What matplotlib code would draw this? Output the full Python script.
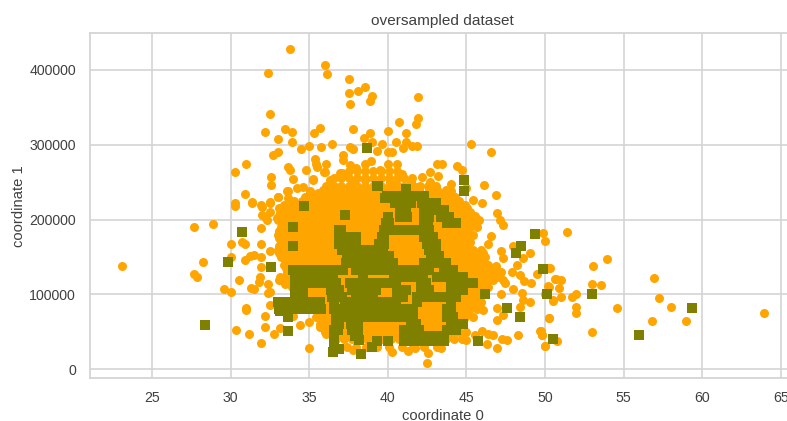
#!/usr/bin/env python3
"""Scatter of the oversampled dataset: original points over the synthetic ones."""

import matplotlib

matplotlib.use("Agg")
import matplotlib.pyplot as plt
import numpy as np

# isolated majority points
top_x = [33.78, 32.36, 35.98, 36.15, 32.5, 32.19, 33.48, 33.88, 32.99, 33.88, 35.66, 35.32, 34.46, 35.0, 35.75, 36.47,
         32.67, 32.99, 31.0, 30.26, 33.65, 33.8, 33.97, 32.59, 32.59, 34.77, 35.35, 35.41, 36.07, 35.92, 35.24, 30.89,
         31.38, 30.26, 32.99, 32.5, 31.93, 33.65, 34.2, 34.62, 35.05, 37.5, 37.5, 38.08, 38.57, 38.97, 38.88, 37.6,
         41.94, 41.94, 41.79, 40.73, 37.76, 40.0, 41.13, 38.88, 38.48, 38.97, 39.6, 40.49, 41.13, 40.98, 41.53, 41.87,
         37.6, 37.76, 39.29, 40.0, 40.24, 45.27, 46.54, 37.17, 37.17, 43.42, 43.12, 44.41, 44.69, 42.68, 43.2, 42.19,
         42.68, 44.01, 44.01, 46.13, 46.86, 43.2, 45.43, 45.98, 44.99, 43.95, 44.27, 35.21, 36.95, 36.0, 35.47, 36.32]
top_y = [428400, 396000, 406000, 394000, 341500, 317500, 321000, 316500, 307700, 304000, 323000, 316000, 294000, 299000,
         297500, 300500, 287000, 291000, 275000, 263500, 270000, 267000, 254500, 256500, 246000, 267000, 280500, 275000,
         275000, 263500, 254500, 234000, 224000, 222500, 230000, 224000, 219500, 238500, 242000, 244000, 238500, 387500,
         369000, 372000, 377000, 365500, 358500, 355000, 364000, 336000, 328000, 331000, 321000, 319000, 316000, 316000,
         309500, 304000, 300500, 304000, 304000, 295500, 298000, 299000, 297500, 294000, 292000, 290500, 290500, 300500,
         290500, 286500, 279500, 275000, 274000, 272000, 266500, 263500, 258000, 256500, 250000, 247500, 238500, 246000,
         233000, 236500, 226000, 222000, 242000, 224000, 222500, 253000, 262000, 264000, 270800, 253000]

mid_x = [37.06, 38.0, 38.54, 38.9, 39.5, 40.0, 40.55, 40.93, 41.45, 41.87, 37.83, 38.54, 39.07, 40.13, 40.55, 37.6,
         33.6, 33.03, 33.67, 33.79, 33.14, 32.19, 32.93, 31.97, 32.5]
mid_y = [262000, 268500, 275000, 278000, 266000, 275000, 275000, 261000, 250500, 244000, 250500, 253000, 242000, 250500,
         246000, 273000, 238300, 229900, 228500, 217300, 208500, 203900, 201800, 217300, 222600]

left_x = [23.07, 27.67, 28.9, 28.24, 27.67, 27.84, 29.6, 30.02, 30.02, 30.02, 30.51, 31.0, 30.34, 31.15, 31.95, 32.76,
          33.14, 32.19, 32.19, 32.5, 30.74, 30.91, 31.95, 30.91, 31.23, 31.49, 31.95, 32.5, 31.95, 31.87, 31.79, 31.32,
          31.49, 32.36, 32.5, 32.36, 33.06, 33.14, 33.44, 35.0, 34.43, 35.0, 33.99, 35.68, 36.06, 30.26, 31.38, 31.97,
          33.14, 31.95, 31.0]
left_y = [138000, 190000, 194000, 143000, 127500, 123500, 107000, 103500, 167000, 150000, 119000, 81500, 52500, 47500,
          35500, 47500, 55000, 56000, 71500, 86500, 170500, 167000, 168000, 146500, 152000, 153000, 150000, 158500, 136500,
          123500, 117000, 109000, 107500, 114000, 103500, 101500, 119000, 123500, 114000, 29000, 59500, 63000, 71500, 56000,
          47500, 218500, 222000, 206000, 206000, 189000, 79000]

right_x = [51.37, 49.88, 49.99, 53.96, 53.06, 50.26, 50.63, 50.99, 52.96, 53.55, 56.94, 50.26, 50.9, 51.98, 51.73, 50.99,
           50.48, 49.97, 57.26, 57.98, 54.6, 51.96, 51.96, 50.26, 56.78, 58.95, 63.94, 52.96, 50.73, 49.99, 49.74, 49.8,
           46.92, 47.13, 47.3, 46.54, 46.38, 45.75, 47.2, 47.34, 47.98, 49.03, 48.62, 48.2, 47.87, 48.4, 49.47, 50.3,
           50.7, 48.68, 49.1, 46.86, 47.34, 46.92, 47.46, 47.98, 48.55, 47.2, 49.03, 48.62, 48.4, 50.2, 50.52, 46.92,
           47.34, 46.92, 50.22, 49.68, 49.78, 48.25, 49.99, 46.92, 46.28, 47.56, 47.28, 46.7, 46.38, 45.96, 45.54, 44.99,
           44.99, 46.05, 42.51, 42.57, 41.3, 40.24, 37.8, 43.37, 41.7]
right_y = [183500, 181700, 171500, 147800, 137600, 135800, 121000, 119300, 114000, 112200, 122400, 110400, 109000, 100200,
           97000, 96600, 91700, 100200, 95300, 83700, 82000, 83700, 75200, 68100, 64900, 64900, 74800, 49400, 37400, 30700,
           51200, 45800, 209300, 199500, 192800, 178500, 167000, 152700, 158500, 148300, 164700, 155000, 148300, 139400,
           130400, 126000, 127300, 135800, 120700, 118000, 115000, 138400, 119300, 123700, 115000, 107300, 102400, 100200,
           90300, 92600, 83700, 111300, 92600, 81500, 72600, 65900, 68200, 51200, 45800, 46200, 30700, 28500, 33800, 39100,
           40500, 45800, 47200, 51200, 45800, 49400, 39100, 79200, 8800, 22100, 24400, 23500, 25700, 28900, 28000]

# solid middle of the majority class, one list per height
orange_265k = [37.55, 38.05, 38.55, 39.05, 39.55, 40.05, 40.55]
orange_255k = [36.55, 37.05, 37.55, 38.05, 38.55, 39.05, 39.55, 40.05, 40.55, 41.05, 41.55]
orange_245k = [36.05, 36.55, 37.05, 37.55, 38.05, 38.55, 39.05, 39.55, 40.05, 40.55, 41.05, 41.55, 42.05, 42.55, 43.05]
orange_240k = [35.9, 36.5, 37.0, 37.6, 38.1, 38.7, 39.2, 39.8, 40.3, 40.9, 41.5, 42.0, 42.6, 43.1, 43.7]
orange_235k = [35.05, 35.55, 36.05, 36.55, 37.05, 37.55, 38.05, 38.55, 39.05, 39.55, 40.05, 40.55, 41.05, 41.55, 42.05,
               42.55, 43.05, 43.55]
orange_230k = [34.7, 35.3, 35.8, 36.3, 36.8, 37.3, 37.8, 38.3, 38.8, 39.3, 39.8, 40.3, 40.8, 41.3, 41.8, 42.3, 42.8, 43.3,
               43.8, 44.3]
orange_225k = [34.05, 34.55, 35.05, 35.55, 36.05, 36.55, 37.05, 37.55, 38.05, 38.55, 39.05, 39.55, 40.05, 40.55, 41.05,
               41.55, 42.05, 42.55, 43.05, 43.55, 44.05, 44.55]
orange_220k = [33.4, 33.9, 34.4, 34.9, 35.4, 35.9, 36.4, 36.9, 37.4, 37.9, 38.4, 38.9, 39.4, 39.9, 40.4, 40.9, 41.4, 41.9,
               42.4, 42.9, 43.4, 43.9, 44.4, 44.9]
orange_215k = [33.05, 33.55, 34.05, 34.55, 35.05, 35.55, 36.05, 36.55, 37.05, 37.55, 38.05, 38.55, 39.05, 39.55, 40.05,
               40.55, 41.05, 41.55, 42.05, 42.55, 43.05, 43.55, 44.05, 44.55, 45.05]
orange_210k = [32.5, 33.2, 33.7, 34.2, 34.7, 35.2, 35.7, 36.2, 36.7, 37.2, 37.7, 38.2, 38.7, 39.2, 39.7, 40.2, 40.7, 41.2,
               41.7, 42.2, 42.7, 43.2, 43.7, 44.2, 44.7, 45.2]
orange_205k = [33.05, 33.55, 34.05, 34.55, 35.05, 35.55, 36.05, 36.55, 37.05, 37.55, 38.05, 38.55, 39.05, 39.55, 40.05,
               40.55, 41.05, 41.55, 42.05, 42.55, 43.05, 43.55, 44.05, 44.55, 45.05, 45.55]
orange_200k = [32.3, 33.0, 33.4, 33.9, 34.4, 34.9, 35.4, 35.9, 36.4, 36.9, 37.4, 37.9, 38.4, 38.9, 39.4, 39.9, 40.4, 40.9,
               41.4, 41.9, 42.4, 42.9, 43.4, 43.9, 44.4, 44.9, 45.4, 45.8]
orange_195k = [33.55, 34.05, 34.55, 35.05, 35.55, 36.05, 36.55, 37.05, 37.55, 38.05, 38.55, 39.05, 39.55, 40.05, 40.55,
               41.05, 41.55, 42.05, 42.55, 43.05, 43.55, 44.05, 44.55, 45.05, 45.55]
orange_190k = [33.2, 33.7, 34.2, 34.7, 35.2, 35.7, 36.2, 36.7, 37.2, 37.7, 38.2, 38.7, 39.2, 39.7, 40.2, 40.7, 41.2, 41.7,
               42.2, 42.7, 43.2, 43.7, 44.2, 44.7, 45.2, 45.7]
orange_185k = [33.05, 33.55, 34.05, 34.55, 35.05, 35.55, 36.05, 36.55, 37.05, 37.55, 38.05, 38.55, 39.05, 39.55, 40.05,
               40.55, 41.05, 41.55, 42.05, 42.55, 43.05, 43.55, 44.05, 44.55, 45.05]
orange_180k = [33.0, 33.4, 33.9, 34.4, 34.9, 35.4, 35.9, 36.4, 36.9, 37.4, 37.9, 38.4, 38.9, 39.4, 39.9, 40.4, 40.9, 41.4,
               41.9, 42.4, 42.9, 43.4, 43.9, 44.4, 44.9, 45.4]
orange_175k = [33.05, 33.55, 34.05, 34.55, 35.05, 35.55, 36.05, 36.55, 37.05, 37.55, 38.05, 38.55, 39.05, 39.55, 40.05,
               40.55, 41.05, 41.55, 42.05, 42.55, 43.05, 43.55, 44.05, 44.55, 45.05]
orange_170k = [33.2, 33.7, 34.2, 34.7, 35.2, 35.7, 36.2, 36.7, 37.2, 37.7, 38.2, 38.7, 39.2, 39.7, 40.2, 40.7, 41.2, 41.7,
               42.2, 42.7, 43.2, 43.7, 44.2, 44.7, 45.2]
orange_165k = [33.05, 33.55, 34.05, 34.55, 35.05, 35.55, 36.05, 36.55, 37.05, 37.55, 38.05, 38.55, 39.05, 39.55, 40.05,
               40.55, 41.05, 41.55, 42.05, 42.55, 43.05, 43.55, 44.05, 44.55, 45.05]
orange_160k = [33.0, 33.4, 33.9, 34.4, 34.9, 35.4, 35.9, 36.4, 36.9, 37.4, 37.9, 38.4, 38.9, 39.4, 39.9, 40.4, 40.9, 41.4,
               41.9, 42.4, 42.9, 43.4, 43.9, 44.4, 44.9, 45.4, 45.9]
orange_155k = [33.05, 33.55, 34.05, 34.55, 35.05, 35.55, 36.05, 36.55, 37.05, 37.55, 38.05, 38.55, 39.05, 39.55, 40.05,
               40.55, 41.05, 41.55, 42.05, 42.55, 43.05, 43.55, 44.05, 44.55, 45.05, 45.55, 46.05]
orange_150k = [33.2, 33.7, 34.2, 34.7, 35.2, 35.7, 36.2, 36.7, 37.2, 37.7, 38.2, 38.7, 39.2, 39.7, 40.2, 40.7, 41.2, 41.7,
               42.2, 42.7, 43.2, 43.7, 44.2, 44.7, 45.2, 45.7, 46.2]
orange_145k = [33.55, 34.05, 34.55, 35.05, 35.55, 36.05, 36.55, 37.05, 37.55, 38.05, 38.55, 39.05, 39.55, 40.05, 40.55,
               41.05, 41.55, 42.05, 42.55, 43.05, 43.55, 44.05, 44.55, 45.05, 45.55, 46.05]
orange_140k = [33.4, 33.9, 34.4, 34.9, 35.4, 35.9, 36.4, 36.9, 37.4, 37.9, 38.4, 38.9, 39.4, 39.9, 40.4, 40.9, 41.4, 41.9,
               42.4, 42.9, 43.4, 43.9, 44.4, 44.9, 45.4, 45.9, 46.4]
orange_135k = [33.55, 34.05, 34.55, 35.05, 35.55, 36.05, 36.55, 37.05, 37.55, 38.05, 38.55, 39.05, 39.55, 40.05, 40.55,
               41.05, 41.55, 42.05, 42.55, 43.05, 43.55, 44.05, 44.55, 45.05, 45.55, 46.05, 46.55]
orange_130k = [33.6, 34.2, 34.7, 35.2, 35.7, 36.2, 36.7, 37.2, 37.7, 38.2, 38.7, 39.2, 39.7, 40.2, 40.7, 41.2, 41.7, 42.2,
               42.7, 43.2, 43.7, 44.2, 44.7, 45.2, 45.7, 46.2, 46.7, 47.2]
orange_125k = [33.55, 34.05, 34.55, 35.05, 35.55, 36.05, 36.55, 37.05, 37.55, 38.05, 38.55, 39.05, 39.55, 40.05, 40.55,
               41.05, 41.55, 42.05, 42.55, 43.05, 43.55, 44.05, 44.55, 45.05, 45.55, 46.05, 46.55]
orange_120k = [33.2, 33.7, 34.4, 34.9, 35.4, 35.9, 36.4, 36.9, 37.4, 37.9, 38.4, 38.9, 39.4, 39.9, 40.4, 40.9, 41.4, 41.9,
               42.4, 42.9, 43.4, 43.9, 44.4, 44.9, 45.4, 45.9, 46.4, 46.7]
orange_115k = [34.05, 34.55, 35.05, 35.55, 36.05, 36.55, 37.05, 37.55, 38.05, 38.55, 39.05, 39.55, 40.05, 40.55, 41.05,
               41.55, 42.05, 42.55, 43.05, 43.55, 44.05, 44.55, 45.05, 45.55, 46.05]
orange_110k = [33.9, 34.4, 34.9, 35.4, 35.9, 36.4, 36.9, 37.4, 37.9, 38.4, 38.9, 39.4, 39.9, 40.4, 40.9, 41.4, 41.9, 42.4,
               42.9, 43.4, 43.9, 44.4, 44.9, 45.4, 45.9, 46.4]
orange_105k = [34.55, 35.05, 35.55, 36.05, 36.55, 37.05, 37.55, 38.05, 38.55, 39.05, 39.55, 40.05, 40.55, 41.05, 41.55,
               42.05, 42.55, 43.05, 43.55, 44.05, 44.55, 45.05, 45.55]
orange_100k = [34.2, 34.7, 35.2, 35.7, 36.2, 36.7, 37.2, 37.7, 38.2, 38.7, 39.2, 39.7, 40.2, 40.7, 41.2, 41.7, 42.2, 42.7,
               43.2, 43.7, 44.2, 44.7, 45.2, 45.7]
orange_95k = [35.05, 35.55, 36.05, 36.55, 37.05, 37.55, 38.05, 38.55, 39.05, 39.55, 40.05, 40.55, 41.05, 41.55, 42.05,
              42.55, 43.05, 43.55, 44.05, 44.55, 45.05, 45.55]
orange_90k = [34.4, 34.9, 35.4, 35.9, 36.4, 36.9, 37.4, 37.9, 38.4, 38.9, 39.4, 39.9, 40.4, 40.9, 41.4, 41.9, 42.4, 42.9,
              43.4, 43.9, 44.4, 44.9, 45.4, 45.9]
orange_85k = [35.05, 35.55, 36.05, 36.55, 37.05, 37.55, 38.05, 38.55, 39.05, 39.55, 40.05, 40.55, 41.05, 41.55, 42.05,
              42.55, 43.05, 43.55, 44.05, 44.55, 45.05, 45.55]
orange_80k = [34.7, 35.2, 35.7, 36.2, 36.7, 37.2, 37.7, 38.2, 38.7, 39.2, 39.7, 40.2, 40.7, 41.2, 41.7, 42.2, 42.7, 43.2,
              43.7, 44.2, 44.7, 45.2, 45.7]
orange_75k = [35.55, 36.05, 36.55, 37.05, 37.55, 38.05, 38.55, 39.05, 39.55, 40.05, 40.55, 41.05, 41.55, 42.05, 42.55,
              43.05, 43.55, 44.05, 44.55, 45.05]
orange_70k = [35.4, 35.9, 36.4, 36.9, 37.4, 37.9, 38.4, 38.9, 39.4, 39.9, 40.4, 40.9, 41.4, 41.9, 42.4, 42.9, 43.4, 43.9,
              44.4, 44.9, 45.4]
orange_65k = [36.05, 36.55, 37.05, 37.55, 38.05, 38.55, 39.05, 39.55, 40.05, 40.55, 41.05, 41.55, 42.05, 42.55, 43.05,
              43.55, 44.05, 44.55]
orange_60k = [35.7, 36.2, 36.7, 37.2, 37.7, 38.2, 38.7, 39.2, 39.7, 40.2, 40.7, 41.2, 41.7, 42.2, 42.7, 43.2, 43.7, 44.2,
              44.7]
orange_55k = [36.05, 36.55, 37.05, 37.55, 38.05, 38.55, 39.05, 39.55, 40.05, 40.55, 41.05, 41.55, 42.05, 42.55, 43.05,
              43.55, 44.05]
orange_50k = [36.0, 36.5, 37.0, 37.5, 38.0, 38.5, 39.0, 39.5, 40.0, 40.5, 41.0, 41.5, 42.0, 42.5, 43.0, 43.5, 44.0, 44.5]
orange_45k = [36.55, 37.05, 37.55, 38.05, 38.55, 39.05, 39.55, 40.05, 40.55, 41.05, 41.55, 42.05, 42.55, 43.05, 43.55,
              44.05]
orange_40k = [36.7, 37.2, 37.7, 38.2, 38.7, 39.2, 39.7, 40.2, 40.7, 41.2, 41.7, 42.2, 42.7, 43.2, 43.7, 44.2, 44.7]
orange_30k = [37.4, 38.0, 38.6, 39.3, 40.1, 40.9, 41.6, 42.3, 43.1]

# isolated minority points
olive_x = [28.39, 29.85, 30.74, 32.59, 33.99, 33.99, 34.68, 33.14, 33.65, 33.65, 36.49, 38.65, 39.37, 41.13, 44.86, 44.86,
           39.82, 40.45, 40.98, 37.27, 49.38, 48.46, 48.15, 49.85, 50.14, 47.59, 48.4, 50.48, 45.73, 38.27, 39.0, 39.3,
           40.03, 46.18, 52.96, 55.95, 59.36, 39.33, 36.6, 38.16, 36.9]
olive_y = [59500, 143000, 184000, 136500, 190000, 165000, 218000, 78000, 70000, 51000, 23500, 295500, 244500, 241500,
           253500, 238500, 229000, 229000, 229000, 206000, 180800, 165000, 155000, 134000, 100000, 82500, 70000, 40500,
           37400, 20800, 30200, 37800, 37800, 100000, 100000, 46300, 82000, 245000, 33000, 39000, 27000]

# solid olive strokes, one list per height
olive_231k = [39.92, 40.35, 40.77, 41.19, 41.62, 42.04, 42.28]
olive_222k = [40.45, 40.9, 41.5, 42.15, 42.45, 42.8, 43.06]
olive_213k = [40.77, 41.15, 42.3, 42.6, 42.93, 43.31, 43.59]
olive_204k = [40.03, 40.77, 41.19, 42.3, 42.6, 43.36, 43.74, 43.9]
olive_195k = [39.86, 40.09, 42.3, 42.57, 43.78, 44.16, 44.33]
olive_186k = [36.89, 37.02, 39.75, 40.18, 40.6, 41.03, 41.45, 41.87, 42.3, 42.64]
olive_177k = [36.89, 37.31, 37.74, 37.97, 39.65, 39.77, 42.3, 42.5, 42.68, 42.85]
olive_168k = [36.9, 37.3, 37.75, 37.95, 39.43, 39.77, 42.51, 42.8, 43.06]
olive_160k = [37.1, 37.53, 37.95, 38.37, 38.8, 39.22, 39.67, 42.61, 42.85, 43.06]
olive_151k = [37.42, 37.85, 38.27, 38.69, 39.12, 39.54, 40.09, 42.72, 43.0, 43.27]
olive_142k = [37.31, 37.74, 38.16, 38.59, 39.01, 39.43, 39.86, 40.3, 42.3, 42.72, 43.14, 43.7]
olive_133k = [34.0, 34.5, 35.0, 35.5, 36.0, 36.2, 36.78, 37.12, 37.95, 38.37, 38.8, 39.22, 39.65, 40.07, 40.49, 40.92, 41.34,
              41.77, 42.19, 42.64, 43.57, 44.12]
olive_124k = [34.1, 34.66, 35.09, 35.51, 35.94, 36.49, 38.44, 40.39, 40.81, 41.24, 41.66, 42.21, 43.14, 43.57, 43.99, 44.42,
              44.76]
olive_115k = [34.1, 34.66, 35.1, 35.5, 35.95, 36.35, 36.7, 37.6, 38.1, 38.69, 39.12, 39.54, 39.96, 40.52, 42.08, 42.42, 43.99,
              44.42, 44.84, 45.39]
olive_106k = [34.1, 34.62, 36.36, 36.91, 37.7, 38.06, 38.48, 38.9, 39.24, 40.6, 41.15, 42.08, 42.64, 43.99, 44.42, 44.76]
olive_97k = [34.1, 34.62, 36.47, 36.7, 37.1, 37.95, 38.37, 38.8, 39.03, 40.6, 40.94, 41.87, 42.3, 42.72, 43.14, 43.57, 43.99,
             44.33]
olive_90k = [33.0, 33.4, 33.8, 34.2, 34.5, 34.9, 35.3, 35.7, 36.57, 37.3, 37.7, 38.06, 38.48, 38.9, 39.33, 39.75, 40.18,
             40.52, 41.87, 43.99]
olive_81k = [33.1, 33.5, 33.9, 34.2, 34.5, 34.95, 35.35, 35.75, 36.57, 37.0, 37.42, 37.85, 38.18, 38.6, 39.0, 39.5, 39.9, 40.4,
             40.8, 41.24, 41.57, 43.78, 44.01]
olive_70k = [36.68, 37.1, 37.53, 37.95, 38.18, 38.6, 39.07, 39.5, 39.9, 40.35, 40.77, 41.15, 41.62, 43.78, 44.12]
olive_61k = [36.68, 36.91, 37.63, 38.08, 41.45, 41.79, 43.99, 44.42, 44.76]
olive_52k = [36.57, 36.8, 37.74, 38.08, 41.03, 41.45, 42.0, 43.78, 44.2, 44.33]
olive_44k = [36.57, 37.9, 41.03, 41.45, 41.87, 42.3, 42.72, 43.14, 43.59]
olive_38k = [41.03, 41.45, 41.87, 42.3, 42.72, 43.14, 43.55]

x_ticks = [25, 30, 35, 40, 45, 50, 55, 60, 65]
y_ticks = [0, 100000, 200000, 300000, 400000]


def stack_rows(rows):
    xs = np.concatenate([np.asarray(v, dtype=float) for v in rows.values()])
    ys = np.concatenate([np.full(len(v), float(k)) for k, v in rows.items()])
    return xs, ys


def main():
    plt.rcParams["font.family"] = ["Liberation Sans", "DejaVu Sans"]

    orange_rows = {
        265000: orange_265k, 255000: orange_255k, 245000: orange_245k, 240000: orange_240k, 235000: orange_235k,
        230000: orange_230k, 225000: orange_225k, 220000: orange_220k, 215000: orange_215k, 210000: orange_210k,
        205000: orange_205k, 200000: orange_200k, 195000: orange_195k, 190000: orange_190k, 185000: orange_185k,
        180000: orange_180k, 175000: orange_175k, 170000: orange_170k, 165000: orange_165k, 160000: orange_160k,
        155000: orange_155k, 150000: orange_150k, 145000: orange_145k, 140000: orange_140k, 135000: orange_135k,
        130000: orange_130k, 125000: orange_125k, 120000: orange_120k, 115000: orange_115k, 110000: orange_110k,
        105000: orange_105k, 100000: orange_100k, 95000: orange_95k, 90000: orange_90k, 85000: orange_85k,
        80000: orange_80k, 75000: orange_75k, 70000: orange_70k, 65000: orange_65k, 60000: orange_60k,
        55000: orange_55k, 50000: orange_50k, 45000: orange_45k, 40000: orange_40k, 30000: orange_30k,
    }
    olive_rows = {
        231000: olive_231k, 222000: olive_222k, 213000: olive_213k, 204000: olive_204k, 195000: olive_195k,
        186000: olive_186k, 177000: olive_177k, 168000: olive_168k, 160000: olive_160k, 151000: olive_151k,
        142000: olive_142k, 133000: olive_133k, 124000: olive_124k, 115000: olive_115k, 106000: olive_106k,
        97000: olive_97k, 90000: olive_90k, 81000: olive_81k, 70000: olive_70k, 61000: olive_61k,
        52000: olive_52k, 44000: olive_44k, 38000: olive_38k,
    }
    core_x, core_y = stack_rows(orange_rows)
    stroke_x, stroke_y = stack_rows(olive_rows)

    # the right spine sits just past the cropped edge of the picture
    fig = plt.figure(figsize=(7.87, 4.21), dpi=100)
    ax = fig.add_axes([90 / 787, 1 - 378.3 / 421, 705 / 787, 345 / 421])
    ax.set_axisbelow(True)
    ax.grid(True, color="#d4d4d4", linewidth=1.2)
    for spine in ax.spines.values():
        spine.set_color("#d4d4d4")
        spine.set_linewidth(1.3)
    ax.tick_params(axis="x", length=0, labelsize=10.2, labelcolor="#404040", pad=9)
    ax.tick_params(axis="y", length=0, labelsize=10.2, labelcolor="#404040", pad=10)

    orange_all_x = np.concatenate([top_x, mid_x, left_x, right_x, core_x])
    orange_all_y = np.concatenate([top_y, mid_y, left_y, right_y, core_y])
    ax.scatter(orange_all_x, orange_all_y, s=42, c="orange", marker="o", linewidths=0)
    ax.scatter(np.concatenate([olive_x, stroke_x]), np.concatenate([olive_y, stroke_y]),
               s=42, c="olive", marker="s", linewidths=0)

    ax.set_xlim(21.06, 65.89)
    ax.set_ylim(-12000, 449000)
    ax.set_xticks(x_ticks)
    ax.set_yticks(y_ticks)
    ax.set_title("oversampled dataset", fontsize=11.1, color="#404040", pad=6)
    ax.set_xlabel("coordinate 0", fontsize=10.6, color="#404040", labelpad=3)
    ax.set_ylabel("coordinate 1", fontsize=10.6, color="#404040", labelpad=2.5)

    fig.savefig("out.png", dpi=100)


if __name__ == "__main__":
    main()
